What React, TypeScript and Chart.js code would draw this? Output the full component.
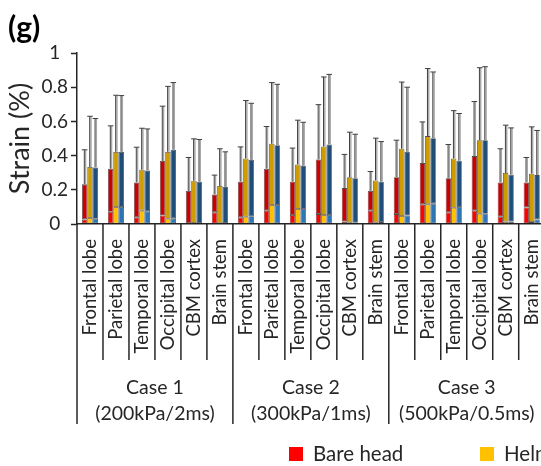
import React, { useEffect, useRef } from 'react';
import { Chart, registerables } from 'chart.js';

Chart.register(...registerables);

// ---------- data ----------
const REGIONS = ['Frontal lobe', 'Parietal lobe', 'Temporal lobe', 'Occipital lobe', 'CBM cortex', 'Brain stem'];
const CASE_NAMES = ['Case 1', 'Case 2', 'Case 3'];
const CASE_LOADS = ['(200kPa/2ms)', '(300kPa/1ms)', '(500kPa/0.5ms)'];
const CATEGORIES = CASE_NAMES.flatMap(() => REGIONS);

const SERIES_NAMES = ['Bare head', 'Helmet', 'Helmet + Face shield'];

// lower (bright) segment top, mean (bar top), max (error-bar top)
const BARE_LOW = [0.027, 0.072, 0.039, 0.050, 0.004, 0.068, 0.039, 0.078, 0.053, 0.058, 0.014, 0.078, 0.058, 0.115, 0.068, 0.078, 0.043, 0.097];
const BARE_MEAN = [0.232, 0.323, 0.243, 0.368, 0.193, 0.173, 0.247, 0.323, 0.247, 0.377, 0.210, 0.193, 0.274, 0.356, 0.268, 0.397, 0.243, 0.243];
const BARE_MAX = [0.434, 0.574, 0.449, 0.689, 0.389, 0.286, 0.451, 0.570, 0.444, 0.698, 0.407, 0.307, 0.490, 0.597, 0.465, 0.716, 0.440, 0.389];

const HELMET_LOW = [0.035, 0.099, 0.078, 0.031, 0.006, 0.004, 0.043, 0.111, 0.088, 0.053, 0.008, 0.008, 0.047, 0.115, 0.095, 0.060, 0.014, 0.012];
const HELMET_MEAN = [0.333, 0.422, 0.317, 0.422, 0.253, 0.222, 0.383, 0.469, 0.348, 0.453, 0.274, 0.255, 0.440, 0.514, 0.383, 0.490, 0.298, 0.294];
const HELMET_MAX = [0.630, 0.753, 0.560, 0.805, 0.498, 0.440, 0.722, 0.827, 0.607, 0.860, 0.537, 0.502, 0.830, 0.909, 0.663, 0.914, 0.578, 0.568];

const SHIELD_LOW = [0.031, 0.099, 0.074, 0.033, 0.006, 0.006, 0.045, 0.111, 0.088, 0.053, 0.008, 0.012, 0.050, 0.119, 0.099, 0.060, 0.014, 0.027];
const SHIELD_MEAN = [0.331, 0.422, 0.313, 0.434, 0.247, 0.216, 0.374, 0.461, 0.340, 0.465, 0.268, 0.247, 0.422, 0.502, 0.370, 0.490, 0.288, 0.286];
const SHIELD_MAX = [0.617, 0.751, 0.556, 0.827, 0.494, 0.422, 0.706, 0.817, 0.595, 0.875, 0.525, 0.482, 0.800, 0.889, 0.646, 0.920, 0.562, 0.547];

const LOWS = [BARE_LOW, HELMET_LOW, SHIELD_LOW];
const MEANS = [BARE_MEAN, HELMET_MEAN, SHIELD_MEAN];
const MAXES = [BARE_MAX, HELMET_MAX, SHIELD_MAX];

// ---------- style ----------
const LOW_COLORS = ['#FF0000', '#FFC000', '#2E75B6'];
const HIGH_COLORS = ['#CC0000', '#CC9C00', '#1F4E79'];
const INK = '#262626';
const FONT = 'Lato';

const groupAxisPlugin = {
  id: 'groupAxis',
  afterDraw(chart: any) {
    const { ctx, chartArea } = chart;
    const xs = chart.scales.x;
    const n = CATEGORIES.length;
    const per = REGIONS.length;
    const step = xs.getPixelForValue(1) - xs.getPixelForValue(0);
    ctx.save();
    ctx.strokeStyle = INK;
    ctx.lineWidth = 1.5;
    for (let i = 0; i <= n; i++) {
      const x = xs.getPixelForValue(0) + (i - 0.5) * step;
      const len = i % per === 0 ? 200 : 136;
      ctx.beginPath();
      ctx.moveTo(x, chartArea.bottom);
      ctx.lineTo(x, chartArea.bottom + len);
      ctx.stroke();
    }
    ctx.fillStyle = INK;
    ctx.font = `19.5px ${FONT}`;
    ctx.textAlign = 'center';
    ctx.textBaseline = 'middle';
    CASE_NAMES.forEach((name, c) => {
      const cx = (xs.getPixelForValue(c * per) + xs.getPixelForValue(c * per + per - 1)) / 2;
      ctx.fillText(name, cx, chartArea.bottom + 164);
      ctx.fillText(CASE_LOADS[c], cx, chartArea.bottom + 190);
    });
    // legend
    ctx.font = `20.5px ${FONT}`;
    ctx.textAlign = 'left';
    const ly = chartArea.bottom + 230;
    SERIES_NAMES.forEach((name, s) => {
      const lx = chartArea.left + 212 + s * 191;
      ctx.fillStyle = LOW_COLORS[s];
      ctx.fillRect(lx, ly - 7, 14, 14);
      ctx.fillStyle = INK;
      ctx.fillText(name, lx + 24, ly);
    });
    ctx.restore();
  },
};

const errorBarPlugin = {
  id: 'errorBars',
  afterDatasetsDraw(chart: any) {
    const { ctx } = chart;
    const ys = chart.scales.y;
    ctx.save();
    SERIES_NAMES.forEach((_, s) => {
      const meta = chart.getDatasetMeta(s * 2 + 1);
      meta.data.forEach((el: any, i: number) => {
        const x = el.x;
        const top = el.y;
        const yMax = ys.getPixelForValue(MAXES[s][i]);
        ctx.lineWidth = 1.4;
        ctx.strokeStyle = '#A6A6A6';
        ctx.beginPath();
        ctx.moveTo(x + 1, top);
        ctx.lineTo(x + 1, yMax);
        ctx.stroke();
        ctx.strokeStyle = '#404040';
        ctx.lineWidth = 1;
        ctx.beginPath();
        ctx.moveTo(x - 0.3, top);
        ctx.lineTo(x - 0.3, yMax);
        ctx.moveTo(x - 2.8, yMax);
        ctx.lineTo(x + 2.8, yMax);
        ctx.stroke();
      });
    });
    ctx.restore();
  },
};

export default function App() {
  const canvasRef = useRef<HTMLCanvasElement | null>(null);

  useEffect(() => {
    document.documentElement.style.overflow = 'hidden';
    const canvas = canvasRef.current;
    if (!canvas) return;

    const datasets: any[] = [];
    SERIES_NAMES.forEach((name, s) => {
      datasets.push({
        label: name + ' (lower)',
        data: LOWS[s],
        backgroundColor: LOW_COLORS[s],
        borderColor: 'rgba(0,0,0,0.7)',
        borderWidth: 0.8,
        borderSkipped: false,
        stack: 'g' + s,
      });
      datasets.push({
        label: name,
        data: LOWS[s].map((lo, i) => [lo, MEANS[s][i]]),
        backgroundColor: HIGH_COLORS[s],
        borderColor: 'rgba(0,0,0,0.7)',
        borderWidth: 0.8,
        borderSkipped: false,
        stack: 'g' + s,
      });
    });

    const chart = new Chart(canvas, {
      type: 'bar',
      data: { labels: CATEGORIES, datasets },
      options: {
        responsive: false,
        animation: false,
        categoryPercentage: 0.62,
        barPercentage: 1,
        layout: { padding: { left: 8, right: 4, top: 8, bottom: 0 } },
        plugins: {
          legend: { display: false },
          tooltip: { enabled: false },
          title: {
            display: true,
            text: '(g)',
            align: 'start',
            color: '#000',
            font: { family: FONT, size: 30, weight: 'bold', lineHeight: 1.1 },
            padding: { top: 4, bottom: 8 },
          },
        },
        scales: {
          x: {
            type: 'category',
            grid: { display: true, drawOnChartArea: false, drawTicks: false },
            border: { display: true, color: INK, width: 1.5 },
            ticks: {
              autoSkip: false,
              minRotation: 90,
              maxRotation: 90,
              padding: 15,
              color: INK,
              font: { family: FONT, size: 18.5 },
            },
            afterFit: (scale: any) => { scale.height = 242; },
          },
          y: {
            type: 'linear',
            min: 0,
            max: 1,
            stacked: false,
            grid: { display: true, drawOnChartArea: false, drawTicks: true, tickLength: 6, tickColor: INK, tickWidth: 1.5 },
            border: { display: true, color: INK, width: 1.5 },
            ticks: {
              stepSize: 0.2,
              padding: 3,
              crossAlign: 'center',
              color: INK,
              font: { family: FONT, size: 19 },
              callback: (v: any) => String(Number(Number(v).toFixed(1))),
            },
            title: {
              display: true,
              text: 'Strain (%)',
              color: INK,
              font: { family: FONT, size: 27, lineHeight: 0.9 },
              padding: { top: 0, bottom: 0 },
            },
            afterFit: (scale: any) => { scale.width = 69; },
          },
        },
      },
      plugins: [errorBarPlugin, groupAxisPlugin],
    });

    return () => chart.destroy();
  }, []);

  return (
    <div style={{ position: 'absolute', left: 0, top: 0 }}>
      <canvas ref={canvasRef} width={569} height={466} style={{ display: 'block' }} />
    </div>
  );
}
